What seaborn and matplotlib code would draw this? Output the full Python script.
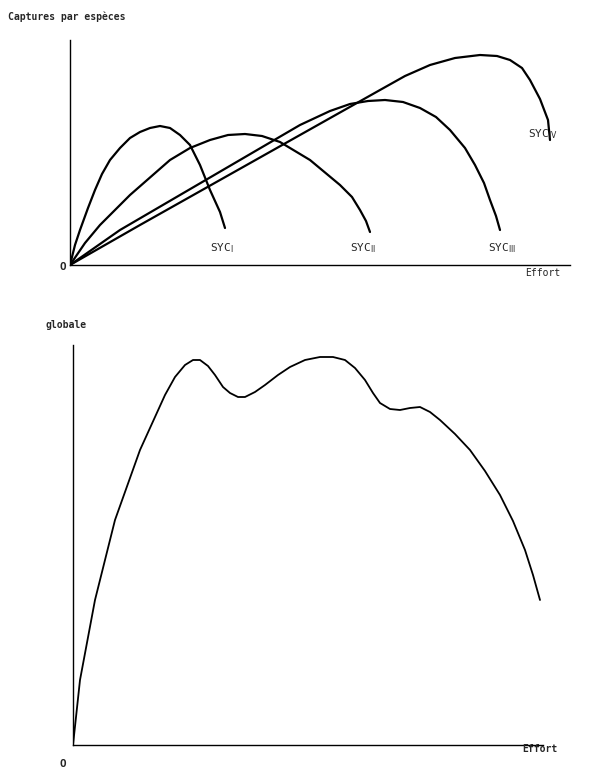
import numpy as np
import pandas as pd
import matplotlib
matplotlib.use("Agg")
import matplotlib.pyplot as plt
import seaborn as sns

# top panel: catches per species (effort, catch)
syc1_x = [0, 5, 10, 18, 25, 32, 40, 50, 60, 70, 80, 90, 100, 110, 120, 130, 140, 150, 155]
syc1_y = [0, 20, 35, 57, 75, 91, 105, 117, 127, 133, 137, 139, 137, 130, 120, 100, 75, 53, 37]
syc2_x = [0, 15, 30, 60, 100, 120, 140, 158, 175, 192, 210, 240, 270, 282, 290, 296, 300]
syc2_y = [0, 22, 40, 70, 105, 117, 125, 130, 131, 129, 123, 105, 80, 68, 55, 44, 33]
syc3_x = [0, 50, 110, 170, 230, 260, 280, 298, 315, 333, 350, 366, 380, 395, 405, 414, 420, 426, 430]
syc3_y = [0, 35, 70, 105, 140, 154, 161, 164, 165, 163, 157, 148, 135, 117, 100, 82, 65, 49, 35]
syc4_x = [0, 70, 150, 230, 310, 335, 360, 385, 410, 427, 440, 452, 460, 470, 478, 480]
syc4_y = [0, 40, 85, 130, 175, 189, 200, 207, 210, 209, 205, 197, 185, 166, 145, 125]

# bottom panel: global catch
glob_x = [0, 7, 22, 42, 67, 92, 102, 112, 120, 127, 135, 142, 150, 157, 165, 172, 182, 192, 205, 217, 232, 247, 260, 272, 282, 292, 300, 307, 317, 327, 337, 347, 357, 367, 382, 397, 412, 427, 440, 452, 460, 467]
glob_y = [0, 65, 145, 225, 295, 350, 368, 380, 385, 385, 379, 370, 358, 352, 348, 348, 353, 360, 370, 378, 385, 388, 388, 385, 377, 365, 352, 342, 336, 335, 337, 338, 333, 325, 311, 295, 274, 250, 224, 195, 170, 145]

sns.set_style("white")
plt.rcParams["font.family"] = ["DejaVu Sans Mono"]

fig = plt.figure(figsize=(6, 7.73), dpi=100)
W, H = 600, 773

ax1 = fig.add_axes([70 / W, (H - 265) / H, 500 / W, 225 / H])
for xs, ys in [(syc1_x, syc1_y), (syc2_x, syc2_y), (syc3_x, syc3_y), (syc4_x, syc4_y)]:
    sns.lineplot(x=xs, y=ys, ax=ax1, color="black", lw=1.6, sort=False)
ax1.set_xlim(0, 500)
ax1.set_ylim(0, 225)
ax1.text(140, 14, r"SYC$_{\mathrm{I}}$", fontsize=8)
ax1.text(280, 14, r"SYC$_{\mathrm{II}}$", fontsize=8)
ax1.text(418, 14, r"SYC$_{\mathrm{III}}$", fontsize=8)
ax1.text(458, 128, r"SYC$_{\mathrm{IV}}$", fontsize=8)

ax2 = fig.add_axes([73 / W, (H - 745) / H, 470 / W, 400 / H])
sns.lineplot(x=glob_x, y=glob_y, ax=ax2, color="black", lw=1.3, sort=False)
ax2.set_xlim(0, 470)
ax2.set_ylim(0, 400)

for ax in (ax1, ax2):
    sns.despine(ax=ax)
    ax.set_xticks([])
    ax.set_yticks([])
    for s in ("left", "bottom"):
        ax.spines[s].set_color("black")
        ax.spines[s].set_linewidth(1.0)

fig.text(8 / W, 1 - 20 / H, "Captures par espèces", fontsize=7, fontweight="bold")
fig.text(60 / W, 1 - 270 / H, "O", fontsize=8, fontweight="bold")
fig.text(525 / W, 1 - 276 / H, "Effort", fontsize=7)
fig.text(46 / W, 1 - 328 / H, "globale", fontsize=7, fontweight="bold")
fig.text(60 / W, 1 - 767 / H, "O", fontsize=8, fontweight="bold")
fig.text(522 / W, 1 - 752 / H, "Effort", fontsize=7, fontweight="bold")

fig.savefig("out.png", dpi=100, facecolor="white")
